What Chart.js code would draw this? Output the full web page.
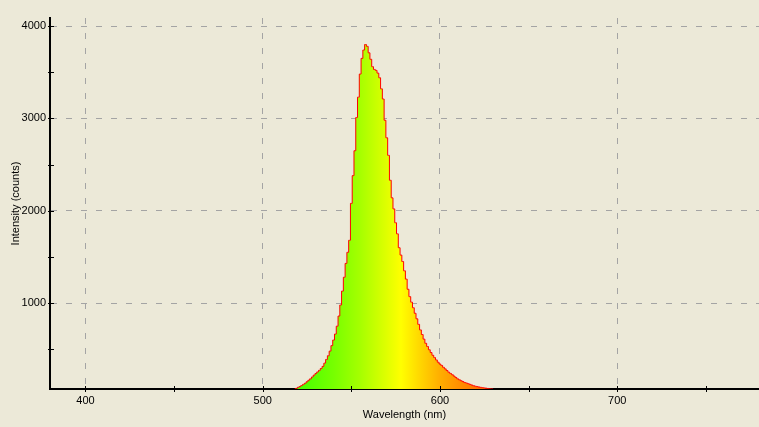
<!DOCTYPE html>
<html>
<head>
<meta charset="utf-8">
<script src="https://cdn.jsdelivr.net/npm/chart.js@4/dist/chart.umd.min.js"></script>
<style>
  html, body { margin: 0; padding: 0; background: #ECE9D8; }
  #wrap { width: 759px; height: 427px; }
</style>
</head>
<body>
<div id="wrap"><canvas id="myChart" width="759" height="427"></canvas></div>
<script>
// longitudes de onda (nm), paso de 1 nm
const longitudes = [];
for (let l = 518; l <= 630; l++) longitudes.push(l);

// intensidad (cuentas)
const intensidad = [
  70, 76, 88, 96, 108, 120, 132, 148, 165, 180,
  200, 220, 238, 255, 272, 292, 315, 350, 390, 430,
  480, 540, 600, 665, 750, 860, 980, 1130, 1280, 1430,
  1550, 1680, 2080, 2380, 2650, 3010, 3230, 3480, 3650, 3740,
  3800, 3780, 3710, 3640, 3560, 3530, 3520, 3490, 3440, 3320,
  3210, 2980, 2790, 2600, 2330, 2140, 2020, 1870, 1750, 1600,
  1520, 1450, 1350, 1260, 1150, 1070, 1010, 950, 890, 830,
  770, 710, 660, 610, 565, 530, 495, 465, 435, 410,
  385, 360, 340, 325, 305, 288, 270, 252, 238, 225,
  210, 195, 180, 170, 160, 150, 140, 135, 128, 120,
  113, 106, 100, 96, 92, 88, 85, 82, 79, 76,
  73, 71, 70
];

const ticksX = [400, 450, 500, 550, 600, 650, 700, 750];
const ticksY = [500, 1000, 1500, 2000, 2500, 3000, 3500, 4000];

// colores del espectro segun longitud de onda
const coloresEspectro = [
  [520, "#44ff00"], [540, "#77ff00"], [555, "#a6ff00"], [568, "#d8ff00"],
  [578, "#ffff00"], [590, "#ffd200"], [600, "#ffae00"], [615, "#ff8400"], [630, "#ff5a00"]
];

const fuente = { family: "'Liberation Sans', Arial, sans-serif", size: 11 };
const grisRejilla = "#a4a4a4";

const rellenoEspectro = (context) => {
  const chart = context.chart;
  const area = chart.chartArea;
  if (!area) return "#ffff00";
  const xs = chart.scales.x;
  const x0 = xs.getPixelForValue(coloresEspectro[0][0]);
  const x1 = xs.getPixelForValue(coloresEspectro[coloresEspectro.length - 1][0]);
  const g = chart.ctx.createLinearGradient(x0, 0, x1, 0);
  coloresEspectro.forEach(([l, c]) => {
    g.addColorStop((xs.getPixelForValue(l) - x0) / (x1 - x0), c);
  });
  return g;
};

// marcas de las escalas que cruzan el eje
const marcasEjes = {
  id: "marcasEjes",
  afterDraw(chart) {
    const { ctx, scales: { x, y }, chartArea } = chart;
    ctx.save();
    ctx.strokeStyle = "#000";
    ctx.lineWidth = 1;
    ctx.setLineDash([]);
    x.ticks.forEach((t) => {
      const px = Math.round(x.getPixelForValue(t.value)) + 0.5;
      ctx.beginPath();
      ctx.moveTo(px, chartArea.bottom - 3);
      ctx.lineTo(px, chartArea.bottom + 3);
      ctx.stroke();
    });
    y.ticks.forEach((t) => {
      const py = Math.round(y.getPixelForValue(t.value)) + 0.5;
      ctx.beginPath();
      ctx.moveTo(chartArea.left - 2, py);
      ctx.lineTo(chartArea.left + 4, py);
      ctx.stroke();
    });
    ctx.restore();
  }
};

const config = {
  type: "line",
  data: {
    datasets: [{
      label: "Intensidad",
      data: longitudes.map((l, i) => ({ x: l, y: intensidad[i] })),
      borderColor: "#ff0000",
      borderWidth: 1,
      backgroundColor: rellenoEspectro,
      fill: "start",
      stepped: "middle",
      pointRadius: 0
    }]
  },
  options: {
    responsive: false,
    animation: false,
    layout: { padding: { top: 18, right: 0, left: 0, bottom: 0 } },
    plugins: { legend: { display: false }, tooltip: { enabled: false } },
    scales: {
      x: {
        type: "linear",
        min: 380,
        max: 780,
        afterBuildTicks: (s) => { s.ticks = ticksX.map((v) => ({ value: v })); },
        afterFit: (s) => { s.height = 38; },
        ticks: {
          color: "#000",
          font: fuente,
          padding: 5,
          maxRotation: 0,
          autoSkip: false,
          callback: (v) => (v % 100 === 0 ? String(v) : "")
        },
        grid: {
          drawTicks: false,
          color: (c) => (c.tick && c.tick.value % 100 === 0 ? grisRejilla : "rgba(0,0,0,0)"),
          lineWidth: 1
        },
        border: { display: true, color: "#000", width: 2, dash: [6, 9] },
        title: {
          display: true,
          text: "Wavelength (nm)",
          color: "#000",
          font: fuente,
          padding: { top: 0, bottom: 5 }
        }
      },
      y: {
        type: "linear",
        min: 70,
        max: 4087,
        afterBuildTicks: (s) => { s.ticks = ticksY.map((v) => ({ value: v })); },
        afterFit: (s) => { s.width = 50; },
        ticks: {
          color: "#000",
          font: fuente,
          padding: 4,
          autoSkip: false,
          callback: (v) => (v % 1000 === 0 ? String(v) : "")
        },
        grid: {
          drawTicks: false,
          color: (c) => (c.tick && c.tick.value % 1000 === 0 ? grisRejilla : "rgba(0,0,0,0)"),
          lineWidth: 1
        },
        border: { display: true, color: "#000", width: 2, dash: [6, 9] },
        title: {
          display: true,
          text: "Intensity (counts)",
          color: "#000",
          font: fuente,
          padding: { top: 9, bottom: 0 }
        }
      }
    }
  },
  plugins: [marcasEjes]
};

const chart = document.querySelector("#myChart");
const myChart = new Chart(chart, config);
</script>
</body>
</html>
